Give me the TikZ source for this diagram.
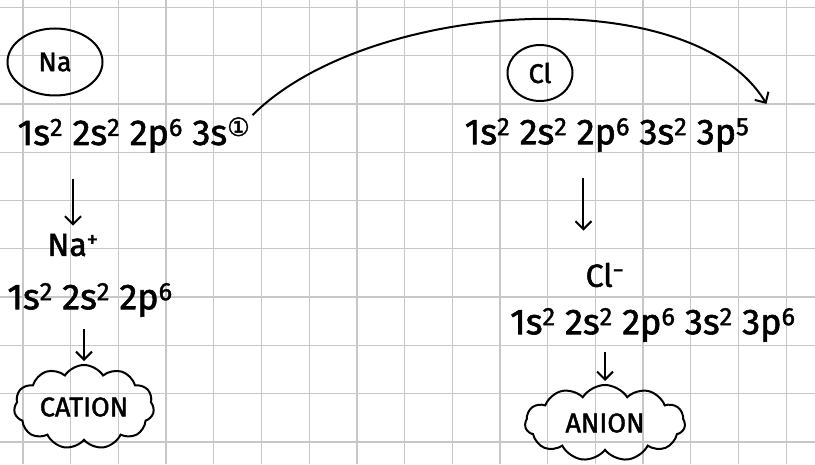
\documentclass[tikz,border=0pt]{standalone}
\usepackage{fontspec}
\setmainfont{Fira Sans}[FakeBold=1.6]
\newfontfamily\symfont{DejaVu Sans}[FakeBold=1.6]
\usetikzlibrary{arrows.meta,shapes.geometric,shapes.symbols}
\tikzset{
paperline/.style={draw=black!22,line width=1.3pt},
inkline/.style={draw=black,line width=2pt},
elembox/.style={ellipse,inkline,inner sep=0pt,font=\fontsize{27}{29}\selectfont},
cfgtext/.style={inner sep=2pt,font=\fontsize{36}{40}\selectfont},
iontext/.style={inner sep=2pt,font=\fontsize{32}{36}\selectfont},
ionbubble/.style={cloud,cloud puffs=11,cloud puff arc=115,cloud ignores aspect,inkline,inner sep=0pt,font=\fontsize{27}{30}\selectfont},
inkarr/.style={-{Straight Barb[length=8pt,width=16pt]},line width=2pt},
stemarr/.style={inkarr,shorten <=24pt,shorten >=6pt}
}
\begin{document}
\begin{tikzpicture}[x=1pt,y=1pt]
\useasboundingbox (0,0) rectangle (815,464);
\fill[white] (0,0) rectangle (815,464);
% squared paper
\draw[paperline,shift={(23,22)}] (-23,-22) grid[xstep=47.7,ystep=48.3] (792,442);
% sodium
\node[elembox,minimum width=95,minimum height=67] (na) at (55,402) {Na};
\node[cfgtext] (nacfg) at (134,329)
  {1s\textsuperscript{2} 2s\textsuperscript{2} 2p\textsuperscript{6} 3s\textsuperscript{\symfont ①}};
\node[iontext] (naion) at (73,219) {Na\textsuperscript{+}};
\node[cfgtext] (nacfg2) at (90,164)
  {1s\textsuperscript{2} 2s\textsuperscript{2} 2p\textsuperscript{6}};
\node[ionbubble,minimum width=140,minimum height=84] (cation) at (84,57) {CATION};
% chlorine
\node[elembox,minimum width=65,minimum height=56] (cl) at (540,391) {Cl};
\node[cfgtext] (clcfg) at (607,329)
  {1s\textsuperscript{2} 2s\textsuperscript{2} 2p\textsuperscript{6} 3s\textsuperscript{2} 3p\textsuperscript{5}};
\node[iontext] (clion) at (605,189) {Cl\textsuperscript{−}};
\node[cfgtext,anchor=west] (clcfg2) at (508,139)
  {1s\textsuperscript{2} 2s\textsuperscript{2} 2p\textsuperscript{6} 3s\textsuperscript{2} 3p\textsuperscript{6}};
\node[ionbubble,minimum width=160,minimum height=76] (anion) at (605,41) {ANION};
% electron transfer
\draw[inkarr] (nacfg.north east) .. controls +(115,115) and +(-75,125)
  .. ([xshift=15,yshift=12]clcfg.north east);
\draw[stemarr] (nacfg.south -| naion) -- (naion);
\draw[stemarr,shorten <=10pt,shorten >=3pt] (nacfg2.south -| cation) -- (cation);
\draw[stemarr,shorten >=30pt] (clcfg.south -| clion.north west) -- (clion.north west);
\draw[stemarr,shorten <=8pt,shorten >=3pt] (clcfg2.south -| anion) -- (anion);
\end{tikzpicture}
\end{document}
